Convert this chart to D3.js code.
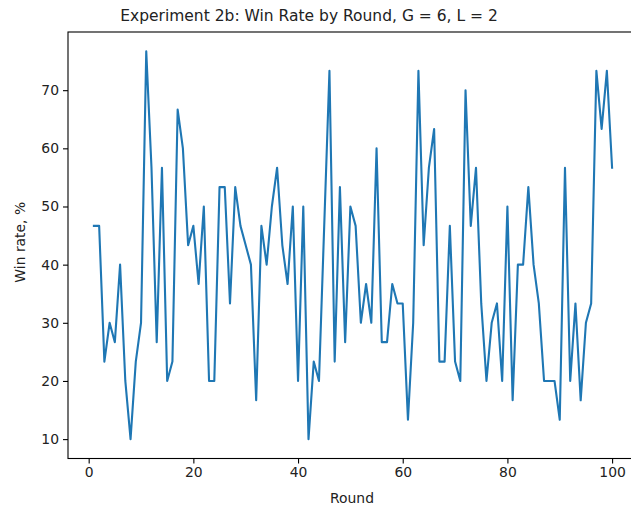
<!DOCTYPE html>
<html>
<head>
<meta charset="utf-8">
<script src="https://cdn.jsdelivr.net/npm/d3@7"></script>
<style>
  body { margin: 0; background: #fff; }
  svg { font-family: "DejaVu Sans", sans-serif; }
</style>
</head>
<body>
<div id="root"></div>
<script>
// Win rate (%) per round.
const rounds = d3.range(1, 101);
const winRate = [
  46.67, 46.67, 23.33, 30.00, 26.67, 40.00, 20.00, 10.00, 23.33, 30.00,
  76.67, 56.67, 26.67, 56.67, 20.00, 23.33, 66.67, 60.00, 43.33, 46.67,
  36.67, 50.00, 20.00, 20.00, 53.33, 53.33, 33.33, 53.33, 46.67, 43.33,
  40.00, 16.67, 46.67, 40.00, 50.00, 56.67, 43.33, 36.67, 50.00, 20.00,
  50.00, 10.00, 23.33, 20.00, 46.67, 73.33, 23.33, 53.33, 26.67, 50.00,
  46.67, 30.00, 36.67, 30.00, 60.00, 26.67, 26.67, 36.67, 33.33, 33.33,
  13.33, 30.00, 73.33, 43.33, 56.67, 63.33, 23.33, 23.33, 46.67, 23.33,
  20.00, 70.00, 46.67, 56.67, 33.33, 20.00, 30.00, 33.33, 20.00, 50.00,
  16.67, 40.00, 40.00, 53.33, 40.00, 33.33, 20.00, 20.00, 20.00, 13.33,
  56.67, 20.00, 33.33, 16.67, 30.00, 33.33, 73.33, 63.33, 73.33, 56.67
];
const xTicks = [0, 20, 40, 60, 80, 100];
const yTicks = [10, 20, 30, 40, 50, 60, 70];

const width = 631;
const height = 509;
// axes box (right edge runs past the window, as in the reference)
const axLeft = 68, axRight = 638, axTop = 32, axBottom = 458.5;

const svg = d3.select('#root')
  .append('svg')
  .attr('width', width)
  .attr('height', height);

// matplotlib style 5% margins around the data
const xPad = (100 - 1) * 0.05;
const xScale = d3.scaleLinear()
  .domain([1 - xPad, 100 + xPad])
  .range([axLeft, axRight]);

const yMin = d3.min(winRate), yMax = d3.max(winRate);
const yPad = (yMax - yMin) * 0.05;
const yScale = d3.scaleLinear()
  .domain([yMin - yPad, yMax + yPad])
  .range([axBottom, axTop]);

const line = d3.line()
  .x((d, i) => xScale(rounds[i]))
  .y(d => yScale(d));

svg.append('path')
  .datum(winRate)
  .attr('fill', 'none')
  .attr('stroke', '#1f77b4')
  .attr('stroke-width', 2.1)
  .attr('stroke-linejoin', 'round')
  .attr('stroke-linecap', 'square')
  .attr('d', line);

// frame
svg.append('rect')
  .attr('x', axLeft)
  .attr('y', axTop)
  .attr('width', axRight - axLeft)
  .attr('height', axBottom - axTop)
  .attr('fill', 'none')
  .attr('stroke', '#000')
  .attr('stroke-width', 1.1);

let xAxis = d3.axisBottom(xScale)
  .tickValues(xTicks)
  .tickSize(5)
  .tickPadding(4)
  .tickFormat(d3.format('d'));

let yAxis = d3.axisLeft(yScale)
  .tickValues(yTicks)
  .tickSize(5)
  .tickPadding(4)
  .tickFormat(d3.format('d'));

let gx = svg.append('g')
  .attr('transform', `translate(0, ${axBottom})`)
  .call(xAxis);

let gy = svg.append('g')
  .attr('transform', `translate(${axLeft}, 0)`)
  .call(yAxis);

[gx, gy].forEach(g => {
  g.select('.domain').remove();
  g.selectAll('.tick line').attr('stroke', '#000').attr('stroke-width', 1.1);
  g.selectAll('.tick text')
    .attr('fill', '#222')
    .style('font-family', '"DejaVu Sans", sans-serif')
    .style('font-size', '13.9px');
});

// labels
svg.append('text')
  .attr('x', 309)
  .attr('y', 21)
  .attr('text-anchor', 'middle')
  .attr('fill', '#222')
  .style('font-size', '15.5px')
  .text('Experiment 2b: Win Rate by Round, G = 6, L = 2');

svg.append('text')
  .attr('x', 352)
  .attr('y', 503)
  .attr('text-anchor', 'middle')
  .attr('fill', '#222')
  .style('font-size', '13.9px')
  .text('Round');

svg.append('text')
  .attr('transform', `translate(25, ${(axTop + axBottom) / 2 - 3}) rotate(-90)`)
  .attr('text-anchor', 'middle')
  .attr('fill', '#222')
  .style('font-size', '13.9px')
  .text('Win rate, %');
</script>
</body>
</html>
